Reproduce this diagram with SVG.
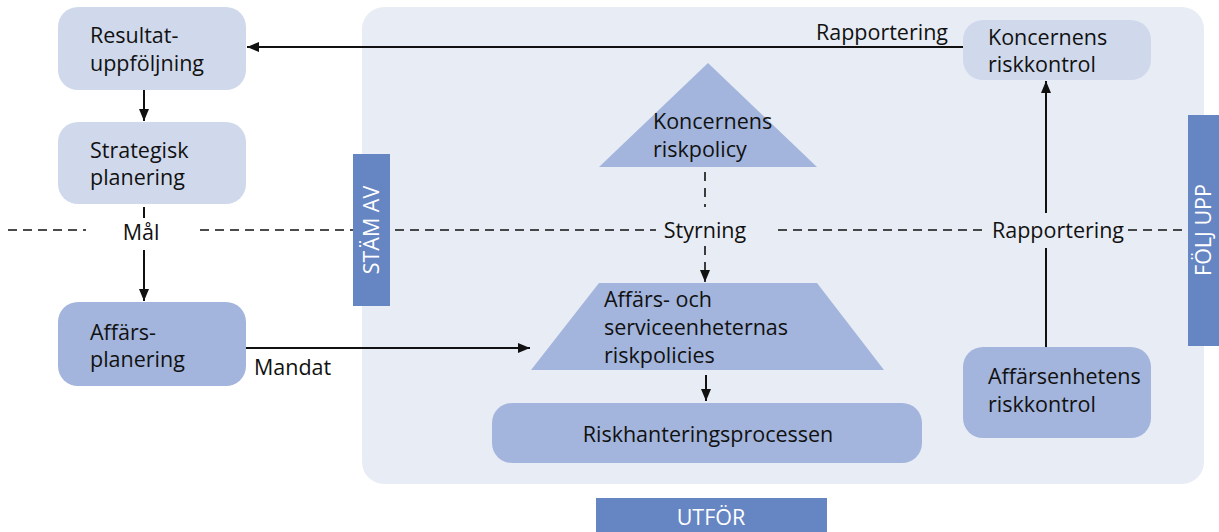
<svg xmlns="http://www.w3.org/2000/svg" width="1219" height="532" viewBox="0 0 1219 532">
<defs>
<style>
.t{font-family:"Open Sans","Noto Sans",sans-serif;font-size:21.5px;fill:#111}
.w{font-family:"Open Sans","Noto Sans",sans-serif;font-size:21.5px;fill:#fff}
.light{fill:#d0d9ec}
.mid{fill:#a3b5dc}
.bar{fill:#6685c3}
.ln{stroke:#111;stroke-width:2;fill:none}
.dash{stroke:#111;stroke-width:1.6;fill:none;stroke-dasharray:9 6}
</style>
<marker id="ah" viewBox="0 0 12 10" refX="12" refY="5" markerWidth="13" markerHeight="10" markerUnits="userSpaceOnUse" orient="auto">
<path d="M0,0 L12,5 L0,10 Z" fill="#111"/>
</marker>
</defs>
<rect width="1219" height="532" fill="#fff"/>
<rect id="panel" x="362" y="7" width="842" height="477" rx="22" fill="#e8ecf5"/>

<g id="connectors">
<path class="dash" d="M8,230 H86"/>
<path class="dash" d="M200,230 H656"/>
<path class="dash" d="M778,230 H986"/>
<path class="dash" d="M1128,230 H1190"/>
<path class="ln" d="M963,47 H247" marker-end="url(#ah)"/>
<path class="ln" d="M144,90 V121" marker-end="url(#ah)"/>
<path class="ln" d="M144,207 V218"/>
<path class="ln" d="M144,250 V301" marker-end="url(#ah)"/>
<path class="ln" d="M246,348 H530" marker-end="url(#ah)"/>
<path class="dash" d="M705,172 V207" style="stroke-dasharray:9 7"/>
<path class="dash" d="M705,246 V282" style="stroke-dasharray:9 7" marker-end="url(#ah)"/>
<path class="ln" d="M706,375 V401" marker-end="url(#ah)"/>
<path class="ln" d="M1046,347 V248"/>
<path class="ln" d="M1046,213 V81" marker-end="url(#ah)"/>
</g>

<g id="resultat">
<rect class="light" x="58" y="7" width="188" height="83" rx="20"/>
<text class="t" x="90" y="43">Resultat-</text>
<text class="t" x="90" y="71">uppföljning</text>
</g>
<g id="strategisk">
<rect class="light" x="58" y="122" width="188" height="82" rx="20"/>
<text class="t" x="90" y="158">Strategisk</text>
<text class="t" x="90" y="185">planering</text>
</g>
<g id="affarsplanering">
<rect class="mid" x="58" y="302" width="188" height="84" rx="20"/>
<text class="t" x="90" y="340">Affärs-</text>
<text class="t" x="90" y="367">planering</text>
</g>
<g id="koncernens-riskpolicy">
<path class="mid" d="M708,63 L817,167 L599,167 Z"/>
<text class="t" x="653" y="129">Koncernens</text>
<text class="t" x="653" y="157">riskpolicy</text>
</g>
<g id="affars-och-service">
<path class="mid" d="M599,283 L817,283 L884,370 L531,370 Z"/>
<text class="t" x="604" y="307">Affärs- och</text>
<text class="t" x="604" y="335">serviceenheternas</text>
<text class="t" x="604" y="363">riskpolicies</text>
</g>
<g id="riskhantering">
<rect class="mid" x="492" y="403" width="430" height="60" rx="20"/>
<text class="t" x="708" y="442" text-anchor="middle">Riskhanteringsprocessen</text>
</g>
<g id="koncernens-riskkontrol">
<rect class="light" x="963" y="20" width="188" height="60" rx="20"/>
<text class="t" x="988" y="45">Koncernens</text>
<text class="t" x="988" y="72">riskkontrol</text>
</g>
<g id="affarsenhetens-riskkontrol">
<rect class="mid" x="963" y="347" width="188" height="91" rx="20"/>
<text class="t" x="988" y="384">Affärsenhetens</text>
<text class="t" x="988" y="412">riskkontrol</text>
</g>

<g id="labels">
<text class="t" x="948" y="40" text-anchor="end">Rapportering</text>
<text class="t" x="141" y="240" text-anchor="middle">Mål</text>
<text class="t" x="254" y="375">Mandat</text>
<text class="t" x="705" y="238" text-anchor="middle">Styrning</text>
<text class="t" x="1058" y="238" text-anchor="middle">Rapportering</text>
</g>

<g id="stam-av">
<rect class="bar" x="353" y="154" width="37" height="152"/>
<text class="w" transform="translate(379,230) rotate(-90)" text-anchor="middle">STÄM AV</text>
</g>
<g id="folj-upp">
<rect class="bar" x="1188" y="115" width="31" height="231"/>
<text class="w" transform="translate(1211,230) rotate(-90)" text-anchor="middle">FÖLJ UPP</text>
</g>
<g id="utfor">
<rect class="bar" x="596" y="498" width="231" height="34"/>
<text class="w" x="711" y="525" text-anchor="middle">UTFÖR</text>
</g>
</svg>
